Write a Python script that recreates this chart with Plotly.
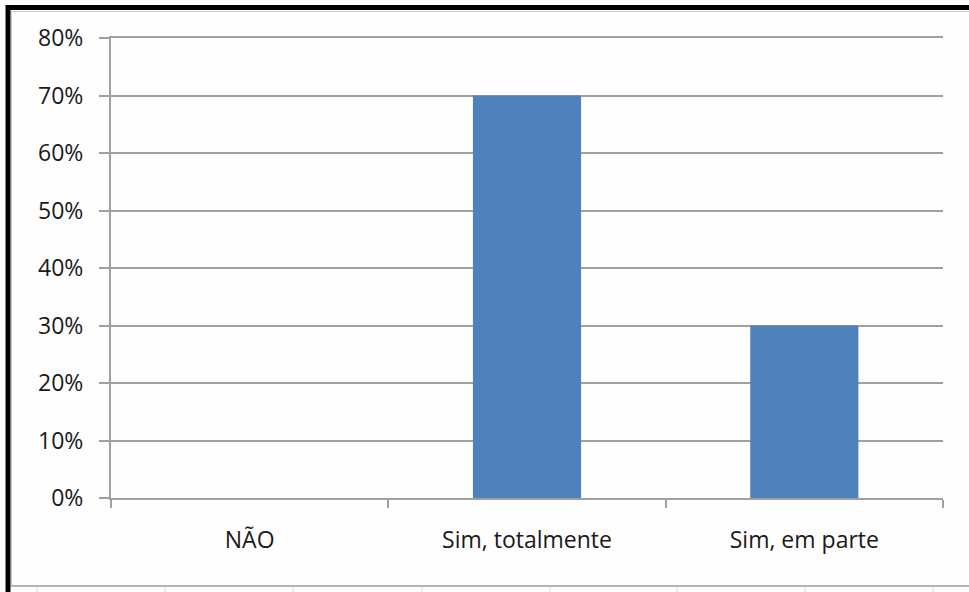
import plotly.graph_objects as go

# Survey answers and their share of responses
categories = ["NÃO", "Sim, totalmente", "Sim, em parte"]
shares = [0.0, 0.70, 0.30]
y_ticks = [0.0, 0.1, 0.2, 0.3, 0.4, 0.5, 0.6, 0.7, 0.8]

W, H = 969, 592
L, R, T, B = 111, 26, 38, 94
PW, PH = W - L - R, H - T - B


def px(x):
    return (x - L) / PW


def py(y):
    return (H - B - y) / PH


GRID = "#a0a0a0"
FONT = dict(family="Open Sans, sans-serif", size=23, color="#1a1a1a")

fig = go.Figure(
    go.Bar(
        x=categories,
        y=shares,
        width=0.39,
        marker=dict(color="#4f81bd", line=dict(width=0)),
    )
)

shapes = [
    # black frame (top and left)
    dict(type="line", xref="paper", yref="paper", x0=px(6), x1=px(W), y0=py(7.5), y1=py(7.5),
         line=dict(color="black", width=5)),
    dict(type="line", xref="paper", yref="paper", x0=px(8), x1=px(8), y0=py(5), y1=py(H),
         line=dict(color="black", width=5)),
    # faint inner border
    dict(type="line", xref="paper", yref="paper", x0=px(11), x1=px(W), y0=py(11.5), y1=py(11.5),
         line=dict(color="#c8c8c8", width=1)),
    dict(type="line", xref="paper", yref="paper", x0=px(11.5), x1=px(11.5), y0=py(11), y1=py(586),
         line=dict(color="#c8c8c8", width=1)),
    # ruled line along the bottom
    dict(type="line", xref="paper", yref="paper", x0=px(11), x1=px(W), y0=py(586), y1=py(586),
         line=dict(color="#b4b4b4", width=2)),
]
for xt in [37, 165, 293, 422, 550, 677, 805, 933]:
    shapes.append(dict(type="line", xref="paper", yref="paper", x0=px(xt), x1=px(xt),
                       y0=py(587), y1=py(H), line=dict(color="#d0d8e8", width=1)))

fig.update_layout(
    width=W,
    height=H,
    margin=dict(l=L, r=R, t=T, b=B),
    paper_bgcolor="#fefefe",
    plot_bgcolor="#fefefe",
    showlegend=False,
    font=FONT,
    shapes=shapes,
    xaxis=dict(
        type="category",
        range=[-0.5, 2.5],
        tickson="boundaries",
        ticks="outside",
        ticklen=8,
        tickwidth=2,
        tickcolor=GRID,
        showline=True,
        mirror=True,
        linecolor=GRID,
        linewidth=2,
        showgrid=False,
        tickfont=FONT,
        ticklabelstandoff=20,
        fixedrange=True,
    ),
    yaxis=dict(
        range=[0, 0.8],
        tickvals=y_ticks,
        tickformat=".0%",
        ticks="outside",
        ticklen=10,
        tickwidth=2,
        tickcolor=GRID,
        showline=True,
        linecolor=GRID,
        linewidth=2,
        gridcolor=GRID,
        gridwidth=2,
        zeroline=False,
        tickfont=FONT,
        ticklabelstandoff=11,
    ),
)

fig.write_html("out.html")
